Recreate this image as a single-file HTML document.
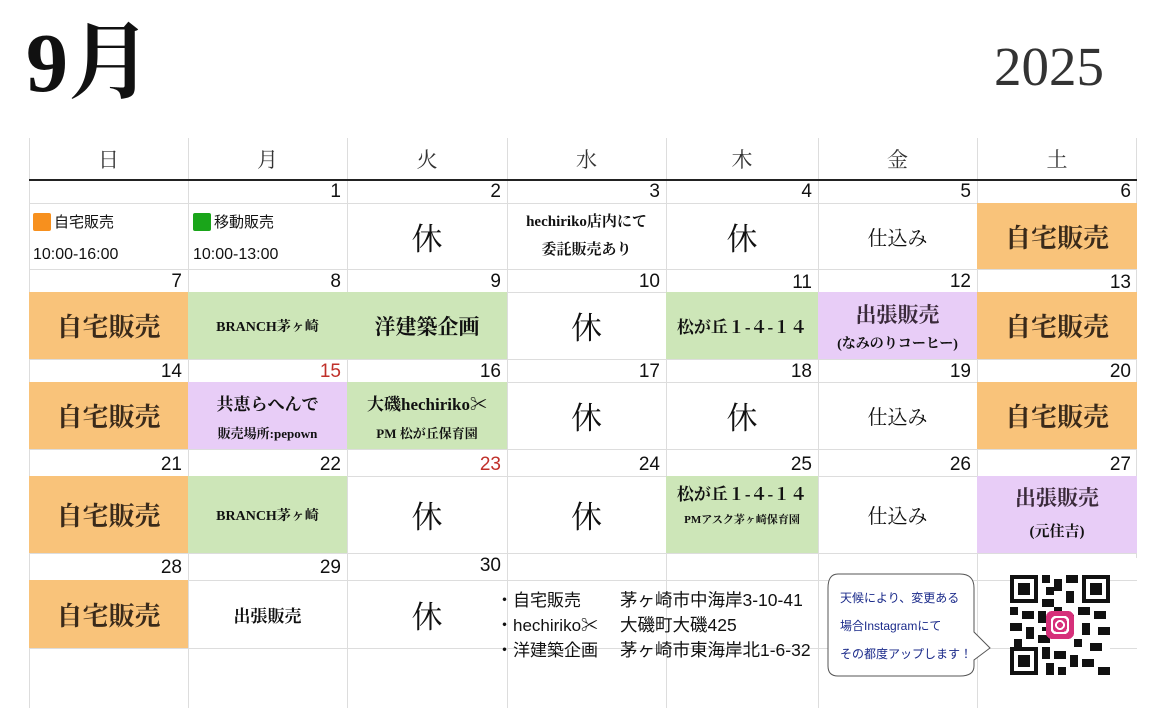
<!DOCTYPE html><html><head><meta charset="utf-8"><style>
body{margin:0;width:1170px;height:708px;background:#fff;position:relative;overflow:hidden;font-family:"Liberation Serif","Noto Serif CJK JP",serif;color:#111}
.a{position:absolute;box-sizing:border-box}
.c{display:flex;flex-direction:column;align-items:center;justify-content:center;text-align:center}
.o{background:#f9c37a}.g{background:#cde6b8}.p{background:#e8cdf7}
.big{font-size:26px;font-weight:bold;color:#3a2a1a}
.kyu{font-size:31px}
.sk{font-size:20px}
.n{font-family:"Liberation Sans","Noto Sans CJK JP",sans-serif;font-size:19px;text-align:right;padding-right:6px;line-height:22px}
.vl{position:absolute;width:1px;background:#ddd}
.hl{position:absolute;height:1px;background:#ddd}
.s{font-family:"Liberation Sans","Noto Sans CJK JP",sans-serif}
.h{font-size:21px;color:#333}
</style></head><body>
<div class="a" style="left:26px;top:14px;font-size:84px;font-weight:bold;line-height:100px">9月</div>
<div class="a" style="left:994px;top:36px;font-size:55px;line-height:62px;color:#333">2025</div>
<div class="a c h" style="left:29px;top:140px;width:159px;height:38px">日</div>
<div class="a c h" style="left:188px;top:140px;width:159px;height:38px">月</div>
<div class="a c h" style="left:347px;top:140px;width:160px;height:38px">火</div>
<div class="a c h" style="left:507px;top:140px;width:159px;height:38px">水</div>
<div class="a c h" style="left:666px;top:140px;width:152px;height:38px">木</div>
<div class="a c h" style="left:818px;top:140px;width:159px;height:38px">金</div>
<div class="a c h" style="left:977px;top:140px;width:160px;height:38px">土</div>
<div class="vl" style="left:29px;top:138px;height:570px"></div>
<div class="vl" style="left:188px;top:138px;height:570px"></div>
<div class="vl" style="left:347px;top:138px;height:570px"></div>
<div class="vl" style="left:507px;top:138px;height:570px"></div>
<div class="vl" style="left:666px;top:138px;height:570px"></div>
<div class="vl" style="left:818px;top:138px;height:570px"></div>
<div class="vl" style="left:977px;top:138px;height:570px"></div>
<div class="vl" style="left:1136px;top:138px;height:420px"></div>
<div class="hl" style="left:29px;top:269px;width:1108px"></div>
<div class="hl" style="left:29px;top:359px;width:1108px"></div>
<div class="hl" style="left:29px;top:449px;width:1108px"></div>
<div class="hl" style="left:29px;top:553px;width:1108px"></div>
<div class="hl" style="left:29px;top:580px;width:1108px"></div>
<div class="hl" style="left:29px;top:648px;width:1108px"></div>
<div class="hl" style="left:29px;top:203px;width:1108px"></div>
<div class="hl" style="left:29px;top:292px;width:1108px"></div>
<div class="hl" style="left:29px;top:382px;width:1108px"></div>
<div class="hl" style="left:29px;top:476px;width:1108px"></div>
<div class="a" style="left:29px;top:179px;width:1108px;height:2px;background:#222"></div>
<div class="a n" style="left:188px;top:181px;width:159px">1</div>
<div class="a n" style="left:347px;top:181px;width:160px">2</div>
<div class="a n" style="left:507px;top:181px;width:159px">3</div>
<div class="a n" style="left:666px;top:181px;width:152px">4</div>
<div class="a n" style="left:818px;top:181px;width:159px">5</div>
<div class="a n" style="left:977px;top:181px;width:160px">6</div>
<div class="a s" style="left:33px;top:212px;font-size:15px;line-height:22px"><span style="display:inline-block;width:18px;height:18px;background:#f7901e;border-radius:2px;vertical-align:-4px;margin-right:3px"></span>自宅販売<br><span style="display:inline-block;margin-top:10px;font-size:16px">10:00-16:00</span></div>
<div class="a s" style="left:193px;top:212px;font-size:15px;line-height:22px"><span style="display:inline-block;width:18px;height:18px;background:#1aa51a;border-radius:2px;vertical-align:-4px;margin-right:3px"></span>移動販売<br><span style="display:inline-block;margin-top:10px;font-size:16px">10:00-13:00</span></div>
<div class="a c kyu" style="left:347px;top:203px;width:160px;height:66px">休</div>
<div class="a c" style="left:507px;top:203px;width:159px;height:66px;font-size:15px;font-weight:bold;line-height:28px">hechiriko店内にて<br>委託販売あり</div>
<div class="a c kyu" style="left:666px;top:203px;width:152px;height:66px">休</div>
<div class="a c sk" style="left:818px;top:203px;width:159px;height:66px">仕込み</div>
<div class="a c o big" style="left:977px;top:203px;width:160px;height:66px">自宅販売</div>
<div class="a n" style="left:29px;top:271px;width:159px">7</div>
<div class="a n" style="left:188px;top:271px;width:159px">8</div>
<div class="a n" style="left:347px;top:271px;width:160px">9</div>
<div class="a n" style="left:507px;top:271px;width:159px">10</div>
<div class="a n" style="left:666px;top:272px;width:152px">11</div>
<div class="a n" style="left:818px;top:271px;width:159px">12</div>
<div class="a n" style="left:977px;top:272px;width:160px">13</div>
<div class="a c o big" style="left:29px;top:292px;width:159px;height:67px">自宅販売</div>
<div class="a c g" style="left:188px;top:292px;width:159px;height:67px;font-size:14px;font-weight:bold">BRANCH茅ヶ崎</div>
<div class="a c g" style="left:347px;top:292px;width:160px;height:67px;font-size:21px;font-weight:bold">洋建築企画</div>
<div class="a c kyu" style="left:507px;top:292px;width:159px;height:67px">休</div>
<div class="a c g" style="left:666px;top:292px;width:152px;height:67px;font-size:17px;font-weight:bold">松が丘１-４-１４</div>
<div class="a c p" style="left:818px;top:292px;width:159px;height:67px"><div style="font-size:21px;font-weight:bold;color:#3a2a3a">出張販売</div><div style="font-size:14px;font-weight:bold;margin-top:4px">(なみのりコーヒー)</div></div>
<div class="a c o big" style="left:977px;top:292px;width:160px;height:67px">自宅販売</div>
<div class="a n" style="left:29px;top:361px;width:159px">14</div>
<div class="a n" style="left:188px;top:361px;width:159px;color:#c0302a">15</div>
<div class="a n" style="left:347px;top:361px;width:160px">16</div>
<div class="a n" style="left:507px;top:361px;width:159px">17</div>
<div class="a n" style="left:666px;top:361px;width:152px">18</div>
<div class="a n" style="left:818px;top:361px;width:159px">19</div>
<div class="a n" style="left:977px;top:361px;width:160px">20</div>
<div class="a c o big" style="left:29px;top:382px;width:159px;height:67px">自宅販売</div>
<div class="a c p" style="left:188px;top:382px;width:159px;height:67px"><div style="font-size:17px;font-weight:bold">共恵らへんで</div><div style="font-size:13px;font-weight:bold;margin-top:8px">販売場所:pepown</div></div>
<div class="a c g" style="left:347px;top:382px;width:160px;height:67px"><div style="font-size:17px;font-weight:bold">大磯hechiriko✂</div><div style="font-size:13px;font-weight:bold;margin-top:8px">PM 松が丘保育園</div></div>
<div class="a c kyu" style="left:507px;top:382px;width:159px;height:67px">休</div>
<div class="a c kyu" style="left:666px;top:382px;width:152px;height:67px">休</div>
<div class="a c sk" style="left:818px;top:382px;width:159px;height:67px">仕込み</div>
<div class="a c o big" style="left:977px;top:382px;width:160px;height:67px">自宅販売</div>
<div class="a n" style="left:29px;top:454px;width:159px">21</div>
<div class="a n" style="left:188px;top:454px;width:159px">22</div>
<div class="a n" style="left:347px;top:454px;width:160px;color:#c0302a">23</div>
<div class="a n" style="left:507px;top:454px;width:159px">24</div>
<div class="a n" style="left:666px;top:454px;width:152px">25</div>
<div class="a n" style="left:818px;top:454px;width:159px">26</div>
<div class="a n" style="left:977px;top:454px;width:160px">27</div>
<div class="a c o big" style="left:29px;top:476px;width:159px;height:77px">自宅販売</div>
<div class="a c g" style="left:188px;top:476px;width:159px;height:77px;font-size:14px;font-weight:bold">BRANCH茅ヶ崎</div>
<div class="a c kyu" style="left:347px;top:476px;width:160px;height:77px">休</div>
<div class="a c kyu" style="left:507px;top:476px;width:159px;height:77px">休</div>
<div class="a g" style="left:666px;top:476px;width:152px;height:77px;text-align:center;padding-top:4px"><div style="font-size:17px;font-weight:bold">松が丘１-４-１４</div><div style="font-size:11px;font-weight:bold;margin-top:6px">PMアスク茅ヶ崎保育園</div></div>
<div class="a c sk" style="left:818px;top:476px;width:159px;height:77px">仕込み</div>
<div class="a p" style="left:977px;top:476px;width:160px;height:77px;text-align:center;padding-top:6px"><div style="font-size:21px;font-weight:bold;color:#3a2a3a">出張販売</div><div style="font-size:15px;font-weight:bold;margin-top:8px">(元住吉)</div></div>
<div class="a n" style="left:29px;top:557px;width:159px">28</div>
<div class="a n" style="left:188px;top:557px;width:159px">29</div>
<div class="a n" style="left:347px;top:555px;width:160px">30</div>
<div class="a c o big" style="left:29px;top:580px;width:159px;height:68px">自宅販売</div>
<div class="a c" style="left:188px;top:580px;width:159px;height:68px;font-size:17px;font-weight:bold">出張販売</div>
<div class="a c kyu" style="left:347px;top:580px;width:160px;height:68px">休</div>
<div class="a s" style="left:496px;top:588px;font-size:17px;line-height:25px">・自宅販売</div>
<div class="a s" style="left:496px;top:613px;font-size:17px;line-height:25px">・hechiriko✂</div>
<div class="a s" style="left:496px;top:638px;font-size:17px;line-height:25px">・洋建築企画</div>
<div class="a s" style="left:620px;top:588px;font-size:17.5px;line-height:25px">茅ヶ崎市中海岸3-10-41</div>
<div class="a s" style="left:620px;top:613px;font-size:17.5px;line-height:25px">大磯町大磯425</div>
<div class="a s" style="left:620px;top:638px;font-size:17.5px;line-height:25px">茅ヶ崎市東海岸北1-6-32</div>
<svg class="a" style="left:820px;top:570px" width="180" height="110"><path d="M18 4 H140 Q154 4 154 18 V62 L170 78 L154 90 V96 Q154 106 140 106 H18 Q8 106 8 96 V18 Q8 4 18 4Z" fill="#fff" stroke="#555" stroke-width="1"/></svg>
<div class="a s" style="left:840px;top:584px;font-size:12px;line-height:28px;color:#1a2a8a">天候により、変更ある<br>場合Instagramにて<br>その都度アップします！</div>
<svg class="a" style="left:1010px;top:575px" width="100" height="100" viewBox="0 0 25 25" shape-rendering="crispEdges">
<rect width="25" height="25" fill="#fff"/>
<g fill="#111"><rect x="0" y="0" width="7" height="7"/><rect x="18" y="0" width="7" height="7"/><rect x="0" y="18" width="7" height="7"/></g>
<g fill="#fff"><rect x="1" y="1" width="5" height="5"/><rect x="19" y="1" width="5" height="5"/><rect x="1" y="19" width="5" height="5"/></g>
<g fill="#111"><rect x="2" y="2" width="3" height="3"/><rect x="20" y="2" width="3" height="3"/><rect x="2" y="20" width="3" height="3"/>
<path d="M8 0h2v2h-2zM11 1h2v3h-2zM14 0h3v2h-3zM9 3h2v2h-2zM14 4h2v3h-2zM8 6h3v2h-3zM0 8h2v2h-2zM3 9h3v2h-3zM7 9h2v3h-2zM17 8h3v2h-3zM21 9h3v2h-3zM0 12h3v2h-3zM4 13h2v3h-2zM18 12h2v3h-2zM22 13h3v2h-3zM1 16h2v2h-2zM7 15h3v2h-3zM16 16h2v2h-2zM20 17h3v2h-3zM8 18h2v3h-2zM11 19h3v2h-3zM15 20h2v3h-2zM18 21h3v2h-3zM22 23h3v2h-3zM9 22h2v3h-2zM12 23h2v2h-2zM11 8h2v2h-2zM15 10h1v2h-1zM8 13h1v1h-1zM22 4h1v1h-1z"/></g>
<rect x="9" y="9" width="7" height="7" rx="1.5" fill="#d6307a"/><rect x="10.5" y="10.5" width="4" height="4" rx="1" fill="none" stroke="#fff" stroke-width="0.6"/><circle cx="12.5" cy="12.5" r="1" fill="none" stroke="#fff" stroke-width="0.5"/>
</svg>
</body></html>
